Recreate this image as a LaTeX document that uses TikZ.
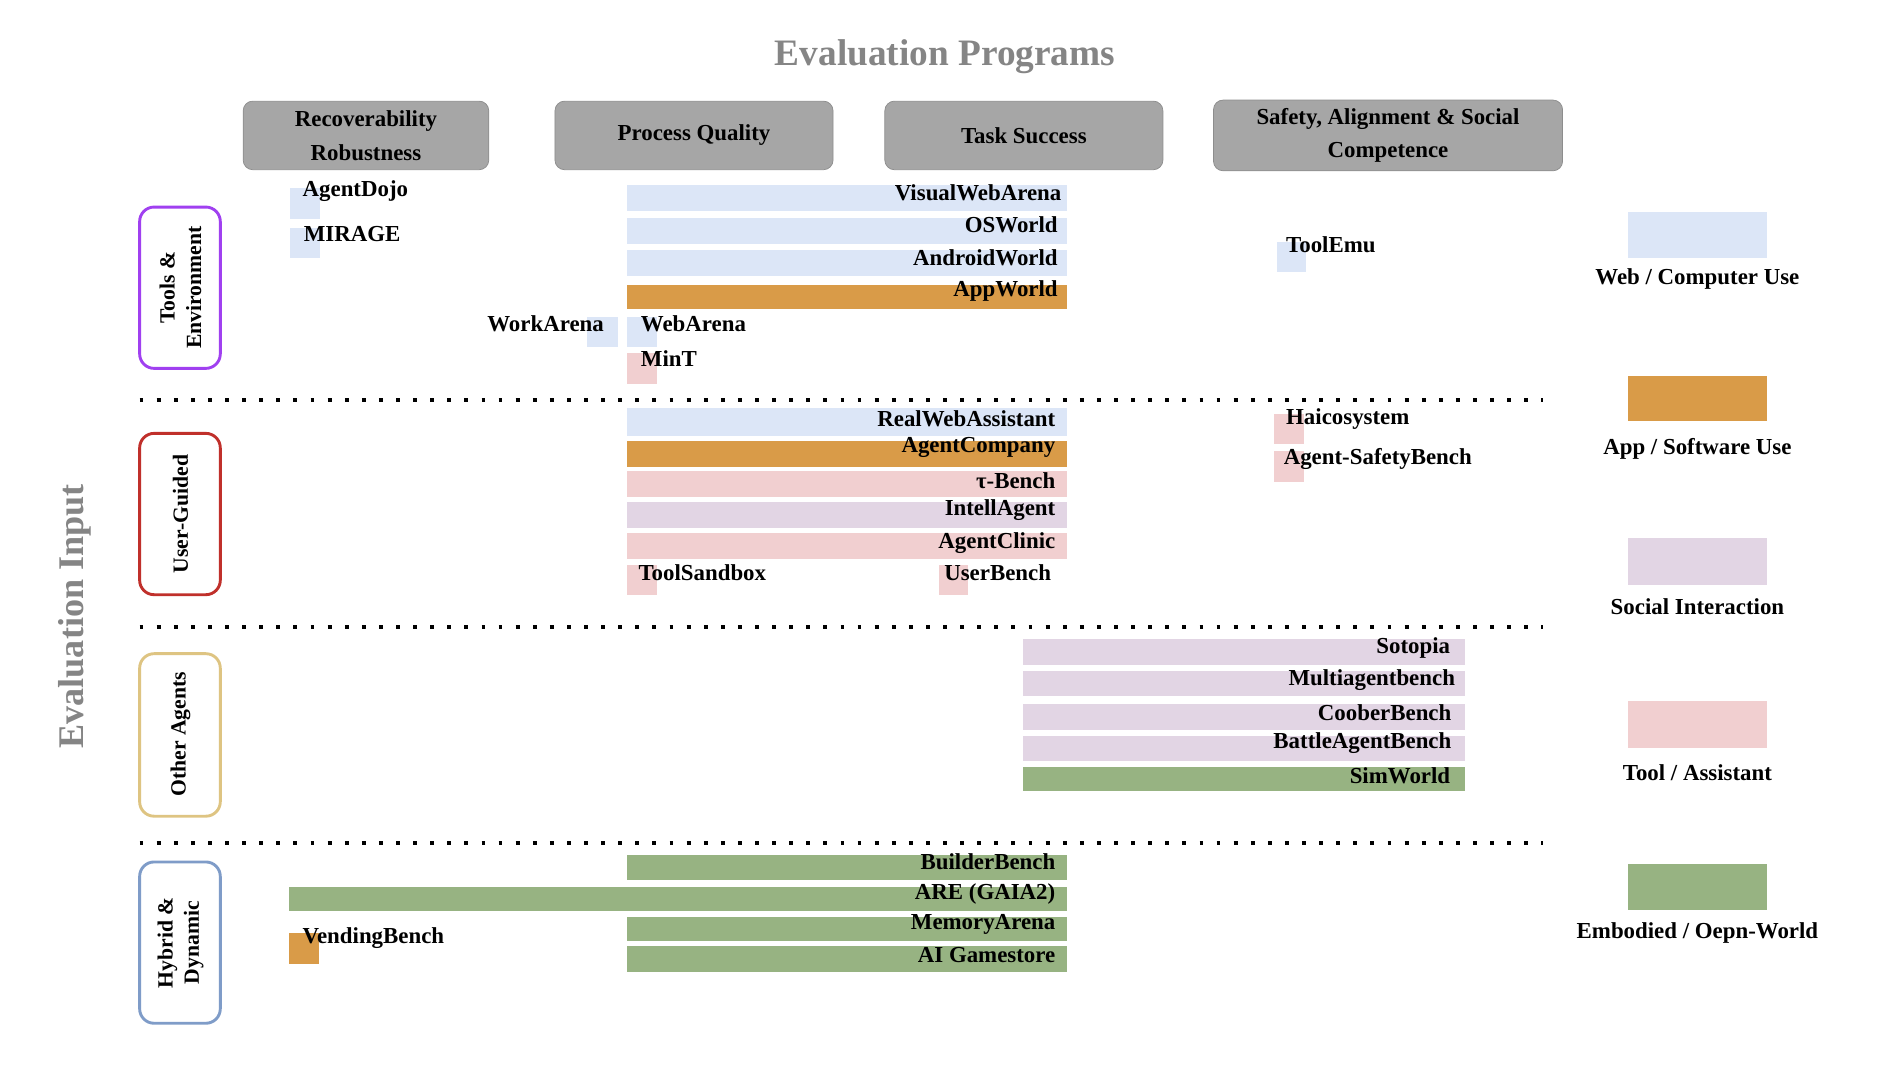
\documentclass[tikz,border=0pt]{standalone}
\usepackage{fontspec}
\setmainfont{Liberation Serif}
\begin{document}
\definecolor{webc}{HTML}{DCE6F7}
\definecolor{appc}{HTML}{D99B48}
\definecolor{socc}{HTML}{E2D5E4}
\definecolor{toolc}{HTML}{F1CFD0}
\definecolor{embc}{HTML}{97B382}
\definecolor{hdr}{HTML}{A6A6A6}
\definecolor{ttl}{HTML}{858585}
\begin{tikzpicture}[x=0.5pt,y=-0.5pt,
  lbl/.style={font=\bfseries\fontsize{9.5}{11}\selectfont,inner sep=0pt},
  rl/.style={lbl,anchor=east},
  ll/.style={lbl,anchor=west},
  hdrbox/.style={fill=hdr,draw=hdr!85!black,line width=0.3pt,rounded corners=4pt,align=center,font=\bfseries\fontsize{9.5}{14}\selectfont},
  rowbox/.style={draw,line width=1.2pt,rounded corners=6pt,fill=white},
  rowtxt/.style={rotate=90,align=center,font=\bfseries\fontsize{9}{11}\selectfont},
  dots/.style={line width=1.6pt,dash pattern=on 1.6pt off 5.5pt},
  leg/.style={font=\bfseries\fontsize{9.5}{11}\selectfont,inner sep=0pt}]
\useasboundingbox (0,0) rectangle (1560,887);
\node[font=\bfseries\fontsize{15.5}{18}\selectfont,text=ttl] (title) at (785,47) {Evaluation Programs};
\node[rotate=90,font=\bfseries\fontsize{15}{18}\selectfont,text=ttl] (input) at (62,512) {Evaluation Input};
% headers
\node[hdrbox,minimum width=102pt,minimum height=28.5pt] (h1) at (304,112.5) {Recoverability\\Robustness};
\node[hdrbox,minimum width=115.5pt,minimum height=28.5pt] (h2) at (576.5,112.5) {Process Quality};
\node[hdrbox,minimum width=115.5pt,minimum height=28.5pt] (h3) at (850.5,112.5) {Task Success};
\node[hdrbox,minimum width=145pt,minimum height=28.5pt] (h4) at (1153,112.5) {Safety, Alignment \& Social\\Competence};
% row boxes
\draw[rowbox,draw={rgb,255:red,160;green,64;blue,240}] (116,172) rectangle (183,306);
\node[rowtxt] (r1) at (150,239) {Tools \&\\Environment};
\draw[rowbox,draw={rgb,255:red,192;green,48;blue,43}] (116,360) rectangle (183,494);
\node[rowtxt] (r2) at (150,427) {User-Guided};
\draw[rowbox,draw={rgb,255:red,222;green,196;blue,130}] (116,543) rectangle (183,678);
\node[rowtxt] (r3) at (150,610) {Other Agents};
\draw[rowbox,draw={rgb,255:red,127;green,156;blue,200}] (116,716) rectangle (183,850);
\node[rowtxt] (r4) at (150,783) {Hybrid \&\\Dynamic};
% dotted separators
\foreach \yy in {332,521,700} \draw[dots] (116,\yy) -- (1282,\yy);
% Tools & Environment
\fill[webc] (521,154) rectangle (886,175); \node[rl] (vwa) at (882,160) {VisualWebArena};
\fill[webc] (521,181) rectangle (886,203); \node[rl] (osw) at (879,187) {OSWorld};
\fill[webc] (521,208) rectangle (886,229); \node[rl] (aw) at (879,214) {AndroidWorld};
\fill[appc] (521,237) rectangle (886,257); \node[rl] (apw) at (879,242) {AppWorld};
\fill[webc] (241,156) rectangle (266,182); \node[ll] (ad) at (251,159) {AgentDojo};
\fill[webc] (241,189) rectangle (266,214); \node[ll] (mir) at (252,194) {MIRAGE};
\fill[webc] (488,263) rectangle (513,288); \node[rl] (wka) at (502,269) {WorkArena};
\fill[webc] (521,263) rectangle (546,288); \node[ll] (wba) at (532,269) {WebArena};
\fill[toolc] (521,293) rectangle (546,319); \node[ll] (mint) at (532,298) {MinT};
\fill[webc] (1061,201) rectangle (1085,226); \node[ll] (te) at (1068,203) {ToolEmu};
% User-Guided
\fill[webc] (521,339) rectangle (886,362); \node[rl] (rwa) at (877,348) {RealWebAssistant};
\fill[appc] (521,366) rectangle (886,388); \node[rl] (ac) at (877,372) {AgentCompany};
\fill[toolc] (521,391) rectangle (886,413); \node[rl] (tb) at (877,399) {τ-Bench};
\fill[socc] (521,417) rectangle (886,439); \node[rl] (ia) at (877,424) {IntellAgent};
\fill[toolc] (521,443) rectangle (886,464); \node[rl] (acl) at (877,451) {AgentClinic};
\fill[toolc] (521,469) rectangle (546,494); \node[ll] (tsb) at (530,476) {ToolSandbox};
\fill[toolc] (780,469) rectangle (804,494); \node[ll] (ub) at (784,476) {UserBench};
\fill[toolc] (1058,344) rectangle (1083,369); \node[ll] (hai) at (1068,348) {Haicosystem};
\fill[toolc] (1058,375) rectangle (1083,400); \node[ll] (asb) at (1066,381) {Agent-SafetyBench};
% Other Agents
\fill[socc] (850,531) rectangle (1217,552); \node[rl] (sot) at (1205,538) {Sotopia};
\fill[socc] (850,557) rectangle (1217,578); \node[rl] (mab) at (1209,565) {Multiagentbench};
\fill[socc] (850,585) rectangle (1217,606); \node[rl] (cb) at (1206,592) {CooberBench};
\fill[socc] (850,611) rectangle (1217,632); \node[rl] (bab) at (1206,617) {BattleAgentBench};
\fill[embc] (850,637) rectangle (1217,657); \node[rl] (sw) at (1205,644) {SimWorld};
% Hybrid
\fill[embc] (521,710) rectangle (886,731); \node[rl] (bb) at (877,716) {BuilderBench};
\fill[embc] (240,737) rectangle (886,757); \node[rl] (are) at (877,743) {ARE (GAIA2)};
\fill[embc] (521,762) rectangle (886,782); \node[rl] (ma) at (877,768) {MemoryArena};
\fill[embc] (521,786) rectangle (886,807); \node[rl] (aig) at (877,793) {AI Gamestore};
\fill[appc] (240,775) rectangle (265,801); \node[ll] (vb) at (251,779) {VendingBench};
% Legend
\fill[webc] (1352,176) rectangle (1468,214); \node[leg] (l1) at (1410,232) {Web / Computer Use};
\fill[appc] (1352,312) rectangle (1468,350); \node[leg] (l2) at (1410,373) {App / Software Use};
\fill[socc] (1352,447) rectangle (1468,486); \node[leg] (l3) at (1410,504) {Social Interaction};
\fill[toolc] (1352,582) rectangle (1468,621); \node[leg] (l4) at (1410,642) {Tool / Assistant};
\fill[embc] (1352,718) rectangle (1468,756); \node[leg] (l5) at (1410,775) {Embodied / Oepn-World};
\end{tikzpicture}
\end{document}
